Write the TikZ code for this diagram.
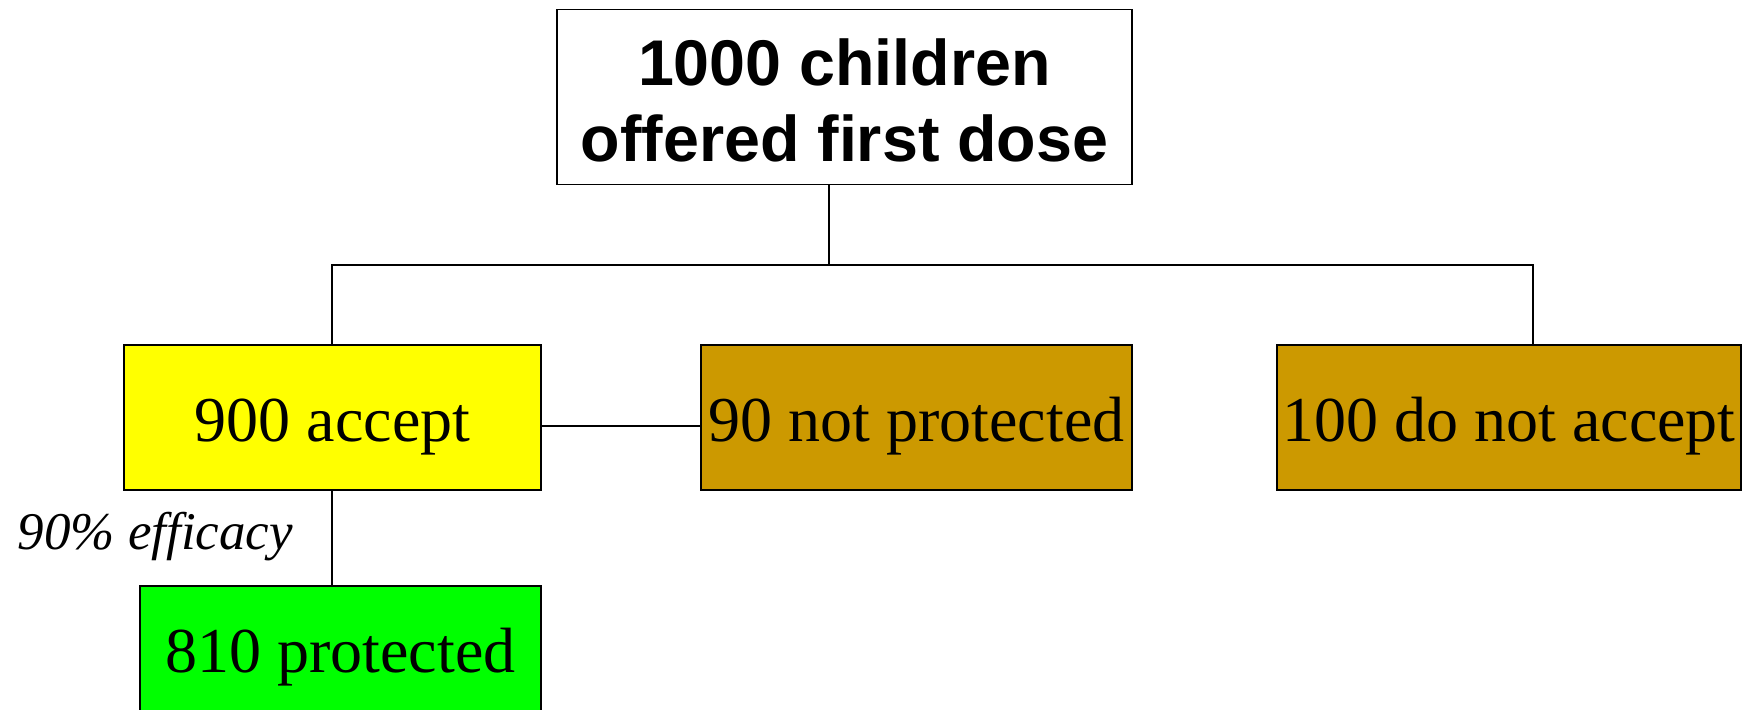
\documentclass[tikz,border=0pt]{standalone}
\usepackage{fontspec}
\setmainfont{Liberation Serif}
\newfontfamily\headfont{Liberation Sans}
\definecolor{goldbox}{HTML}{CC9900}
\definecolor{yellowbox}{HTML}{FFFF00}
\definecolor{greenbox}{HTML}{00FF00}
\begin{document}
\begin{tikzpicture}[x=0.5pt,y=-0.5pt, line width=0.7pt,
  box/.style={draw=black, rectangle, inner sep=0pt,
    font=\fontsize{32}{36}\selectfont, text height=24pt, text depth=0pt,
    minimum height=72.5pt},
  conn/.style={draw=black, line width=0.7pt}]
\useasboundingbox (0,0) rectangle (1758,710);
\clip (0,0) rectangle (1758,710);
\fill[white] (0,0) rectangle (1758,710);
\node[draw=black, fill=white, minimum width=287.5pt, minimum height=87.5pt, inner sep=0pt,
  align=center, font=\headfont\bfseries\fontsize{32.3}{38.3}\selectfont] (top) at (844.5,96.8)
  {\rule{0pt}{27pt}1000 children\\offered first dose};
\node[box, fill=yellowbox, minimum width=208.5pt] (accept) at (332.5,417.5) {900 accept};
\node[box, fill=goldbox, minimum width=215.5pt] (notprot) at (916.5,417.5) {90 not protected};
\node[box, fill=goldbox, minimum width=232pt] (notacc) at (1509,417.5) {100 do not accept};
\node[box, fill=greenbox, minimum width=200.5pt, text height=14.5pt] (prot) at (340.5,658.5) {810 protected};
\node[anchor=base west, inner sep=0pt, font=\itshape\fontsize{26.5}{30}\selectfont] (eff) at (17,550) {90\% efficacy};
\coordinate (bus) at (829,265);
\coordinate (busL) at (332,265);
\coordinate (busR) at (1533,265);
\coordinate (link) at (620,426);
\draw[conn] (top.south -| bus) -- (bus);
\draw[conn] (busL |- accept.north) -- (busL) -- (busR) -- (busR |- notacc.north);
\draw[conn] (accept.east |- link) -- (notprot.west |- link);
\draw[conn] (accept.south -| busL) -- (prot.north -| busL);
\end{tikzpicture}
\end{document}
